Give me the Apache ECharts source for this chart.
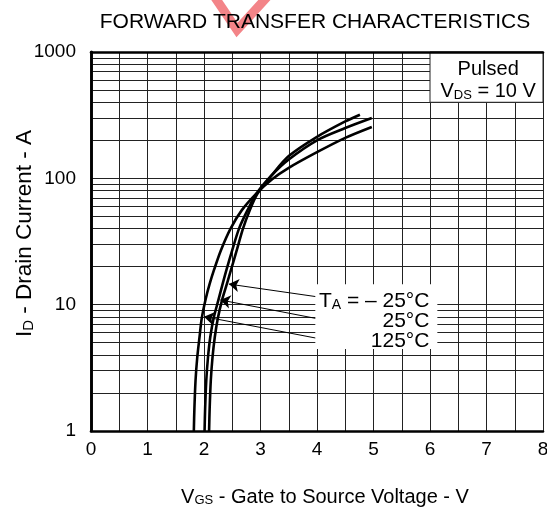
<!DOCTYPE html>
<html>
<head>
<meta charset="utf-8">
<script src="https://cdn.jsdelivr.net/npm/echarts@6/dist/echarts.min.js"></script>
<style>html,body{margin:0;padding:0;background:#fff}#c{width:547px;height:508px}</style>
</head>
<body>
<div id="c"></div>
<script>
// ---- data ----
const titleText = 'FORWARD TRANSFER CHARACTERISTICS';
const xTicks = [0, 1, 2, 3, 4, 5, 6, 7, 8];
const yDecades = [1, 10, 100, 1000];
const yMinorLines = [2,3,4,5,6,7,8,9,20,30,40,50,60,70,80,90,200,300,400,500,600,700,800,900];

const vgsM25 = [2.09, 2.10, 2.12, 2.15, 2.19, 2.245, 2.325, 2.405, 2.48, 2.58, 2.69, 2.81, 2.95, 3.20, 3.50, 4.00, 4.50, 4.76];
const idM25  = [1.0, 1.5, 2.5, 3.8, 5.5, 7.8, 11.1, 14.6, 19, 27, 40, 56, 76, 106, 150, 213, 282, 319];
const vgs25  = [2.01, 2.02, 2.04, 2.07, 2.11, 2.17, 2.26, 2.33, 2.40, 2.50, 2.62, 2.77, 2.93, 3.20, 3.50, 4.00, 4.50, 4.97];
const id25   = [1.0, 1.5, 2.5, 3.8, 5.5, 7.8, 11.1, 14.6, 19, 27, 40, 56, 76, 106, 141, 200, 250, 300];
const vgs125 = [1.82, 1.83, 1.85, 1.88, 1.92, 1.96, 2.03, 2.10, 2.18, 2.30, 2.47, 2.67, 2.93, 3.20, 3.50, 4.00, 4.50, 4.97];
const id125  = [1.0, 1.5, 2.5, 3.8, 5.5, 7.8, 11.1, 14.6, 19, 27, 40, 56, 76, 98, 121, 161, 209, 255];

const legendLabels = ['T{sub|A} = \u2013 25\u00B0C', '25\u00B0C', '125\u00B0C'];
const legendAnchorV = [5.99, 5.99, 5.99];
const legendAnchorI = [10.6, 7.36, 5.14];
const arrowFromV = [3.97, 3.97, 3.97];
const arrowFromI = [11.6, 7.8, 5.45];
const arrowToV   = [2.44, 2.29, 2.00];
const arrowToI   = [14.55, 10.9, 8.04];
const legendBox = [[3.97, 4.45], [6.13, 14.5]];
const condBox = [[6, 400], [8, 1000]];
const condLabels = ['Pulsed', 'V{sub|DS} = 10 V'];
const condAnchorV = [7.03, 7.03];
const condAnchorI = [721, 489];

// ---- chart ----
const FONT = '"Liberation Sans", Arial, Helvetica, sans-serif';
const zip = (a, b) => a.map((v, i) => [v, b[i]]);
const chart = echarts.init(document.getElementById('c'), null, {renderer: 'canvas'});

const subRich = {sub: {fontSize: 13, fontFamily: FONT, color: '#000', verticalAlign: 'bottom', lineHeight: 19}};
const subRichL = {sub: {fontSize: 14, fontFamily: FONT, color: '#000', verticalAlign: 'bottom', lineHeight: 20}};
const subRichY = {sub: {fontSize: 15, fontFamily: FONT, color: '#000', verticalAlign: 'bottom', lineHeight: 21}};

const curveStyle = {color: '#000', width: 2.6};
function curve(name, v, i) {
  return {
    name, type: 'line', data: zip(v, i), smooth: 0.3, showSymbol: false, symbol: 'none',
    lineStyle: curveStyle, itemStyle: {color: '#000'}, z: 5, silent: true, animation: false
  };
}

const option = {
  animation: false,
  backgroundColor: '#fff',
  textStyle: {fontFamily: FONT},
  title: {
    text: titleText, left: 310, top: 7, textAlign: 'center',
    textStyle: {fontSize: 21, fontWeight: 'normal', color: '#000', fontFamily: FONT}
  },
  graphic: [{
    type: 'polyline', z: -1, silent: true,
    shape: {points: [[214, -4], [237, 30], [268, -4]]},
    style: {stroke: 'rgba(238,80,85,0.7)', lineWidth: 9, fill: null, lineJoin: 'miter'}
  }],
  grid: {left: 91, top: 52, right: 4, bottom: 77, containLabel: false, outerBoundsMode: 'none'},
  xAxis: [{
    type: 'value', min: 0, max: 8, interval: 1,
    axisLine: {show: true, onZero: false, lineStyle: {color: '#000', width: 2.6}},
    axisTick: {show: false},
    axisLabel: {fontSize: 19, color: '#000', margin: 9, fontFamily: FONT,
      formatter: v => xTicks.includes(v) ? String(v) : ''},
    splitLine: {show: true, lineStyle: {color: '#222', width: 1}},
    minorTick: {show: false, splitNumber: 2},
    minorSplitLine: {show: true, lineStyle: {color: '#222', width: 1}},
    name: 'V{sub|GS} - Gate to Source Voltage - V',
    nameLocation: 'middle', nameGap: 56, nameMoveOverlap: false,
    nameTextStyle: {fontSize: 20, color: '#000', fontFamily: FONT, rich: subRich, padding: [0, 0, 0, 16]}
  }, {
    type: 'value', min: 0, max: 8, position: 'top', z: 10,
    axisLine: {show: true, onZero: false, lineStyle: {color: '#000', width: 2.6}},
    axisTick: {show: false}, axisLabel: {show: false}, splitLine: {show: false}
  }],
  yAxis: [{
    type: 'log', logBase: 10, min: 1, max: 1000,
    axisLine: {show: true, lineStyle: {color: '#000', width: 2.6}},
    axisTick: {show: false},
    axisLabel: {fontSize: 19, color: '#000', margin: 15, fontFamily: FONT,
      formatter: v => yDecades.includes(Math.round(v)) ? String(Math.round(v)) : ''},
    splitLine: {show: true, lineStyle: {color: '#222', width: 1}},
    name: 'I{sub|D} - Drain Current - A',
    nameLocation: 'middle', nameGap: 55, nameMoveOverlap: false,
    nameTextStyle: {fontSize: 22.5, color: '#000', fontFamily: FONT, rich: subRichY, padding: [0, 0, 0, 16]}
  }, {
    type: 'log', logBase: 10, min: 1, max: 1000, position: 'right', z: 10,
    axisLine: {show: true, lineStyle: {color: '#000', width: 2.6}},
    axisTick: {show: false}, axisLabel: {show: false}, splitLine: {show: false}
  }],
  series: [
    {
      name: 'minor-grid', type: 'line', data: [], z: 1, silent: true,
      markLine: {
        z: 1, silent: true, symbol: ['none', 'none'], label: {show: false}, animation: false,
        lineStyle: {color: '#222', width: 1, type: 'solid', opacity: 1},
        emphasis: {disabled: true},
        data: yMinorLines.map(v => ({yAxis: v}))
      }
    },
    {
      name: 'boxes', type: 'line', data: [], z: 3, silent: true,
      markArea: {
        z: 3, silent: true, animation: false,
        emphasis: {disabled: true},
        itemStyle: {color: '#fff', opacity: 1},
        data: [
          [{xAxis: condBox[0][0], yAxis: condBox[0][1], itemStyle: {color: '#fff', opacity: 1, borderColor: '#222', borderWidth: 1}},
           {xAxis: condBox[1][0], yAxis: condBox[1][1]}],
          [{xAxis: legendBox[0][0], yAxis: legendBox[0][1], itemStyle: {color: '#fff', opacity: 1, borderWidth: 0}},
           {xAxis: legendBox[1][0], yAxis: legendBox[1][1]}]
        ]
      }
    },
    curve('TA = -25°C', vgsM25, idM25),
    curve('TA = 25°C', vgs25, id25),
    curve('TA = 125°C', vgs125, id125),
    {
      name: 'arrows', type: 'line', data: [], z: 6, silent: true,
      itemStyle: {color: '#000'},
      markLine: {
        z: 6, silent: true, animation: false, symbol: ['none', 'arrow'], symbolSize: 10,
        label: {show: false}, emphasis: {disabled: true},
        itemStyle: {color: '#000'},
        lineStyle: {color: '#000', width: 1, type: 'solid', opacity: 1},
        data: arrowFromV.map((v, k) => [
          {coord: [v, arrowFromI[k]]},
          {coord: [arrowToV[k], arrowToI[k]]}
        ])
      }
    },
    {
      name: 'legend-text', type: 'scatter', z: 7, silent: true, symbolSize: 0,
      itemStyle: {opacity: 1},
      data: legendLabels.map((t, k) => [legendAnchorV[k], legendAnchorI[k], t]),
      label: {
        show: true, position: 'left', distance: 0, color: '#000', fontSize: 21, fontFamily: FONT,
        align: 'right', verticalAlign: 'middle', lineHeight: 22, opacity: 1,
        formatter: p => p.data[2], rich: subRichL
      }
    },
    {
      name: 'cond-text', type: 'scatter', z: 7, silent: true, symbolSize: 0,
      itemStyle: {opacity: 1},
      data: condLabels.map((t, k) => [condAnchorV[k], condAnchorI[k], t]),
      label: {
        show: true, position: 'inside', color: '#000', fontSize: 20, fontFamily: FONT,
        align: 'center', verticalAlign: 'middle', lineHeight: 22, opacity: 1,
        formatter: p => p.data[2], rich: subRich
      }
    }
  ]
};
chart.setOption(option);
</script>
</body>
</html>
